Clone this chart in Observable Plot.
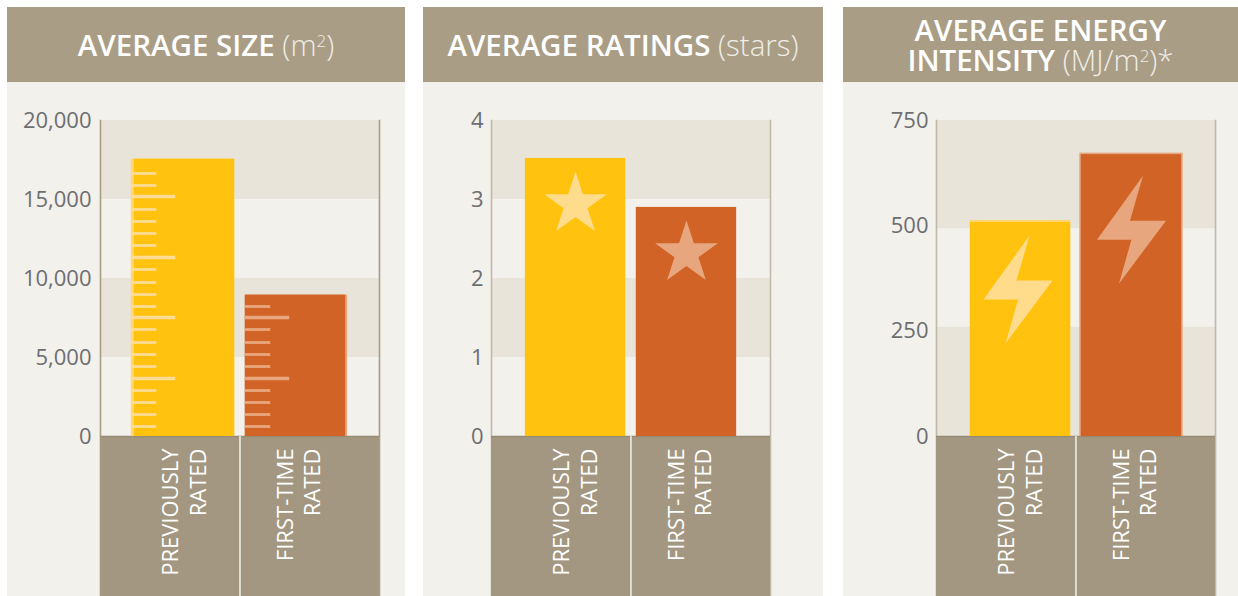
<!DOCTYPE html>
<html><head><meta charset="utf-8">
<script src="https://cdn.jsdelivr.net/npm/d3@7"></script>
<script src="https://cdn.jsdelivr.net/npm/@observablehq/plot@0.6"></script>
<style>
html,body{margin:0;padding:0;background:#fff;width:1238px;height:596px;overflow:hidden;font-family:"Open Sans",sans-serif}
.panel{position:absolute;top:7px;height:589px;background:#f3f1ec}
.head{height:75px;background:#a99d86;color:#fff;display:flex;align-items:center;justify-content:center;text-align:center;font-size:29.5px;font-weight:600;line-height:30px;letter-spacing:0}
.head span{font-weight:300;color:#f0ede6}
.head sup{font-size:17px;line-height:0;vertical-align:9px}
.panel svg{display:block}
</style></head><body>
<div id="root"></div>
<script>
const categories = ["PREVIOUSLY\nRATED", "FIRST-TIME\nRATED"];
const sizeValues = [17550, 8950];
const ratingValues = [3.52, 2.9];
const energyValues = [508, 669];
const sizeAxis = [0, 5000, 10000, 15000, 20000];
const ratingAxis = [0, 1, 2, 3, 4];
const energyAxis = [0, 250, 500, 750];
const sizeBands = [[15000, 20000], [5000, 10000]];
const ratingBands = [[3, 4], [1, 2]];
const energyBands = [[493, 750], [0, 259]];
const shortTicksA = [633,1392,2152,2911,4430,5190,5949,6772,8228,8987,9747,10570,12089,12848,13608,14367,15886,16646];
const longTicksA = [3671,7532,11329,15190];
const shortTicksB = [633,1392,2152,2911,4430,5190,5949,6772,8228];
const longTicksB = [3671,7532];
const colors = ["#ffc20e", "#d26327"];
const paleEdges = ["#ffd670", "#e7a67d"];
const iconColors = ["#ffdb8c", "#e7a67d"];

const bolt = {draw(c, s) {
  const k = Math.sqrt(s) / 100;
  const pts = [[11.5,-54],[-34.5,10],[0,10],[-12.5,54],[34.5,-9],[-1.5,-9]];
  pts.forEach(([x,y],i) => i ? c.lineTo(x*k,y*k) : c.moveTo(x*k,y*k));
  c.closePath();
}};

function chart(o) {
  const rows = categories.map((c,i) => ({c, v:o.values[i], i}));
  const ymax = o.axis[o.axis.length-1];
  const marks = [
    Plot.rectY(o.bands, {y1:d=>d[0], y2:d=>d[1], fill:"#e8e4da"}),
    Plot.frame({anchor:"left", stroke:o.rule, strokeWidth:1.6}),
    Plot.frame({anchor:"right", stroke:o.rule, strokeWidth:1.6}),
    Plot.rectY([[-ymax*160/316,0]], {y1:d=>d[0], y2:d=>d[1], fill:"#a39781"}),
    Plot.ruleY([0], {stroke:"#978b74", strokeWidth:1.5}),
    Plot.ruleX([categories[1]], {x:d=>d, y1:-ymax*160/316, y2:0, stroke:"#f3f1ec", strokeWidth:1.5, dx:-55.5}),
    ...o.edges.map(e => Plot.barY([rows[e.i]], {x:"c", y:"v", fill:paleEdges[e.i], insetLeft:-(e.l||0), insetRight:-(e.r||0), insetTop:-(e.t||0)})),
    Plot.barY(rows, {x:"c", y:"v", fill:d=>colors[d.i]}),
    ...o.extra(rows),
    ...categories.map((cat,i) => Plot.text([cat], {x:d=>d, y:0, text:d=>d, rotate:-90, textAnchor:"end", lineAnchor:"middle", lineHeight:1.25, fontSize:22, fill:"#fff", fontWeight:500, dy:12, dx:i ? 2 : -1.5})),
    Plot.axisY({ticks:o.axis, tickSize:0, tickPadding:o.pad, fontSize:22, label:null, color:"#6d6e71", tickFormat:d3.format(","), dy:0})
  ];
  return Plot.plot({
    width:o.w, height:514, marginTop:38, marginBottom:0, marginLeft:o.ml, marginRight:o.w-o.ml-279,
    style:{background:"transparent", fontFamily:"'Open Sans',sans-serif", overflow:"visible"},
    x:{domain:categories, paddingInner:.095, paddingOuter:.305, round:false, axis:null},
    y:{domain:[-ymax*160/316, ymax], axis:null},
    marks
  });
}

const ticks = (list,i) => list.map(v => ({c:categories[i], v}));
const panels = [
 {left:7,w:398,ml:93,pad:9,title:'AVERAGE SIZE <span>(m<sup>2</sup>)</span>',values:sizeValues,axis:sizeAxis,bands:sizeBands,rule:"#a99d86",
  edges:[{i:0,l:3},{i:1,r:2}],
  extra:()=>[
    Plot.tickY(ticks(shortTicksA,0),{x:"c",y:"v",stroke:"#ffdc96",strokeWidth:2.8,insetLeft:-3,insetRight:78}),
    Plot.tickY(ticks(longTicksA,0),{x:"c",y:"v",stroke:"#ffdc96",strokeWidth:3.6,insetLeft:-3,insetRight:59}),
    Plot.tickY(ticks(shortTicksB,1),{x:"c",y:"v",stroke:"#e7a67d",strokeWidth:2.8,insetRight:75}),
    Plot.tickY(ticks(longTicksB,1),{x:"c",y:"v",stroke:"#e7a67d",strokeWidth:3.6,insetRight:56})
  ]},
 {left:423,w:400,ml:68,pad:8,title:'AVERAGE RATINGS <span>(stars)</span>',values:ratingValues,axis:ratingAxis,bands:ratingBands,rule:"#c2baa9",
  edges:[],
  extra:rows=>[Plot.dot(rows,{x:"c",y:"v",symbol:"star",r:19.7,dy:46,stroke:"none",fill:d=>iconColors[d.i]})]},
 {left:843,w:395,ml:93,pad:8,title:'AVERAGE ENERGY<br>INTENSITY <span>(MJ/m<sup>2</sup>)*</span>',values:energyValues,axis:energyAxis,bands:energyBands,rule:"#c2baa9",
  edges:[{i:0,t:2},{i:1,l:1.5,r:1.5,t:1.5}],
  extra:rows=>[
    Plot.dot([rows[0]],{x:"c",y:"v",symbol:bolt,r:100/Math.sqrt(Math.PI),dy:67,dx:-2.5,stroke:"none",fill:iconColors[0]}),
    Plot.dot([rows[1]],{x:"c",y:"v",symbol:bolt,r:100/Math.sqrt(Math.PI),dy:75,stroke:"none",fill:iconColors[1]})
  ]}
];
const root = document.getElementById("root");
for (const p of panels) {
  const d = document.createElement("div");
  d.className = "panel"; d.style.left = p.left+"px"; d.style.width = p.w+"px";
  d.innerHTML = `<div class="head"><div>${p.title}</div></div>`;
  d.appendChild(chart(p));
  root.appendChild(d);
}
</script></body></html>
